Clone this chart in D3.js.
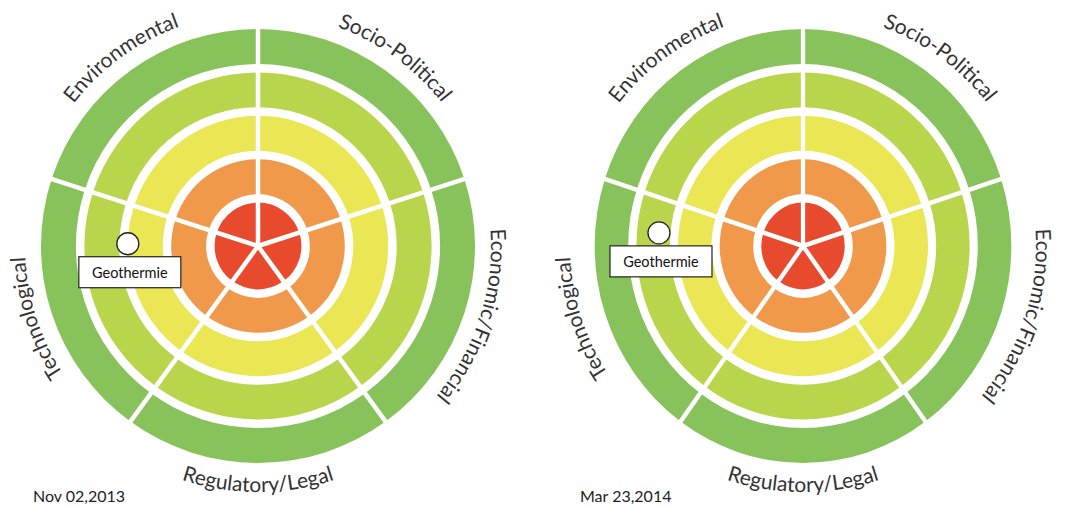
<!DOCTYPE html>
<html>
<head>
<meta charset="utf-8">
<script src="https://cdn.jsdelivr.net/npm/d3@7"></script>
<style>
  body { margin: 0; background: #fff; }
  svg { display: block; font-family: Lato, "Open Sans", sans-serif; }
</style>
</head>
<body>
<svg id="chart" width="1066" height="508"></svg>
<script>
// sectors, clockwise from 12 o'clock
const sectors = ["Socio-Political", "Economic/Financial", "Regulatory/Legal", "Technological", "Environmental"];
// rings, centre to edge
const levels = [0, 1, 2, 3, 4];
const levelColors = ["#e84a2e", "#f0994a", "#ebe653", "#b9d54c", "#87c25b"];

// one radar per snapshot
const dates = ["Nov 02,2013", "Mar 23,2014"];
const technology = "Geothermie";
const techLevel = [3.0, 3.47];   // 0 = centre, 5 = outer edge
const techAngle = [271, 275];    // degrees clockwise from 12 o'clock

const svg = d3.select("#chart");

const outerR = 217, ringGap = 8.5, spokeW = 4.5;
const labelR = 233, flipLabelR = 246;
const charts = [
  { x: 258, y: 246, sx: 1 },
  { x: 803, y: 246, sx: 0.96 },
];

const r = d3.scaleLinear().domain([0, levels.length]).range([0, outerR]);
const angle = d3.scaleBand().domain(sectors).range([0, 2 * Math.PI]);

const arc = d3
  .arc()
  .innerRadius((d) => (d.level === 0 ? 0 : r(d.level) + ringGap))
  .outerRadius((d) => r(d.level + 1))
  .startAngle((d) => angle(d.sector))
  .endAngle((d) => angle(d.sector) + angle.bandwidth());

const cells = [];
sectors.forEach((s) => levels.forEach((l) => cells.push({ sector: s, level: l })));

function draw_radar(c, i) {
  const g = svg.append("g").attr("transform", `translate(${c.x},${c.y})`);

  // rings + spokes (right picture is slightly narrower)
  const rings = g.append("g").attr("transform", `scale(${c.sx},1)`);

  rings
    .selectAll("path.cell")
    .data(cells)
    .enter()
    .append("path")
    .attr("class", "cell")
    .attr("d", arc)
    .attr("fill", (d) => levelColors[d.level]);

  rings
    .selectAll("line.spoke")
    .data(sectors)
    .enter()
    .append("line")
    .attr("class", "spoke")
    .attr("x1", 0)
    .attr("y1", 0)
    .attr("x2", (d) => Math.sin(angle(d)) * (outerR + 2))
    .attr("y2", (d) => -Math.cos(angle(d)) * (outerR + 2))
    .attr("stroke", "#fff")
    .attr("stroke-width", spokeW);

  // curved sector labels
  const defs = g.append("defs");
  const span = Math.PI / 3;
  sectors.forEach((s, k) => {
    const mid = angle(s) + angle.bandwidth() / 2;
    const flip = mid > (3 * Math.PI) / 4 && mid < (5 * Math.PI) / 4;
    const p = d3.path();
    if (flip) {
      p.arc(0, 0, flipLabelR, mid + span - Math.PI / 2, mid - span - Math.PI / 2, true);
    } else {
      p.arc(0, 0, labelR, mid - span - Math.PI / 2, mid + span - Math.PI / 2, false);
    }
    defs.append("path").attr("id", `lab-${i}-${k}`).attr("d", p.toString());
  });

  g.selectAll("text.sector")
    .data(sectors)
    .enter()
    .append("text")
    .attr("class", "sector")
    .style("font-size", "21px")
    .attr("fill", "#333")
    .append("textPath")
    .attr("href", (d, k) => `#lab-${i}-${k}`)
    .attr("startOffset", "50%")
    .attr("text-anchor", "middle")
    .text((d) => d);
}

charts.forEach(draw_radar);

// snapshot dates
svg
  .selectAll("text.date")
  .data(dates)
  .enter()
  .append("text")
  .attr("class", "date")
  .attr("x", (d, i) => [33, 580][i])
  .attr("y", 502)
  .style("font-size", "16px")
  .attr("fill", "#222")
  .text((d) => d);

// technology marker
const markers = charts.map((c, i) => {
  const a = (techAngle[i] * Math.PI) / 180;
  return {
    x: c.x + c.sx * Math.sin(a) * r(techLevel[i]),
    y: c.y - Math.cos(a) * r(techLevel[i]),
  };
});

const mk = svg.selectAll("g.marker").data(markers).enter().append("g").attr("class", "marker");

mk.append("circle")
  .attr("cx", (d) => d.x)
  .attr("cy", (d) => d.y)
  .attr("r", 11)
  .attr("fill", "#fff")
  .attr("stroke", "#222")
  .attr("stroke-width", 1.3);

mk.append("rect")
  .attr("x", (d) => d.x - 49)
  .attr("y", (d) => d.y + 13)
  .attr("width", 102)
  .attr("height", 31)
  .attr("fill", "#fff")
  .attr("stroke", "#222")
  .attr("stroke-width", 1.2);

mk.append("text")
  .attr("x", (d) => d.x + 2)
  .attr("y", (d) => d.y + 34)
  .attr("text-anchor", "middle")
  .style("font-size", "14.5px")
  .attr("fill", "#111")
  .text(technology);
</script>
</body>
</html>
